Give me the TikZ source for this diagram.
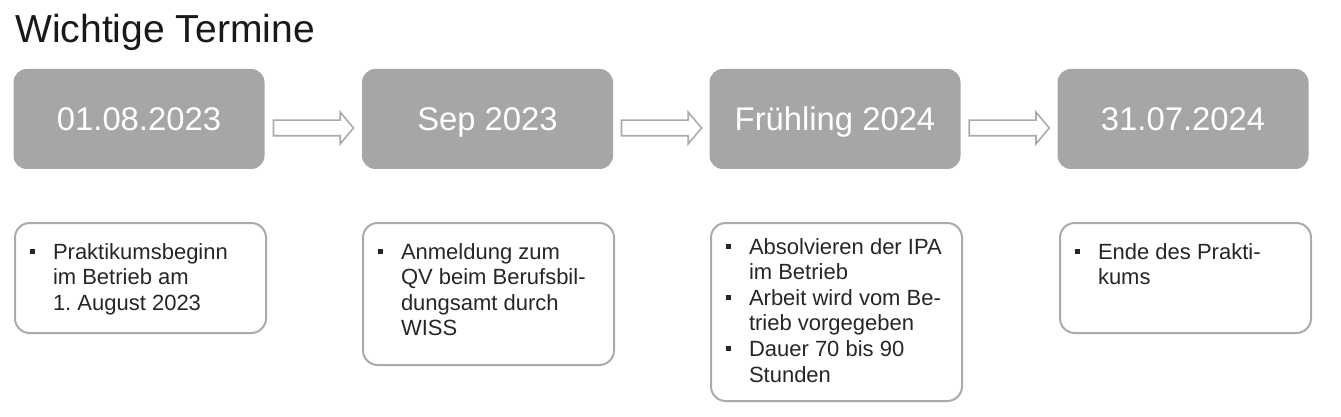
\documentclass[tikz,border=0pt]{standalone}
\usepackage{fontspec}
\setmainfont{Liberation Sans}
\usetikzlibrary{positioning}
\usetikzlibrary{calc}
\usetikzlibrary{shapes.arrows}

\definecolor{boxgrey}{HTML}{A6A6A6}
\definecolor{framegrey}{HTML}{ABABAB}
\definecolor{textgrey}{HTML}{262626}
\newcommand{\bul}{\leavevmode\llap{\rule[4pt]{3.75pt}{3.75pt}\hspace{13.5pt}}}
\newcommand{\punkte}[1]{\hspace*{28.5pt}\parbox[t]{159.75pt}{\raggedright\frenchspacing #1}}

\begin{document}
\begin{tikzpicture}
	[x=0.75pt,y=-0.75pt,
	datebox/.style={rectangle,rounded corners=10pt,fill=boxgrey,minimum width=188.25pt,minimum height=75pt,inner sep=0pt,text height=17.7pt,text depth=0pt,text=white,font=\fontsize{24.6}{29}\selectfont},
	infobox/.style={rectangle,rounded corners=11pt,draw=framegrey,line width=1.5pt,anchor=north west,inner sep=0pt,minimum width=188.25pt,text height=27pt,text=textgrey,font=\fontsize{16.5}{19.2}\selectfont},
	steparrow/.style={single arrow,draw=framegrey,line width=1.2pt,minimum height=60pt,inner xsep=0pt,inner ysep=5.25pt,single arrow head extend=6pt,single arrow tip angle=100}]
	\useasboundingbox (0,0) rectangle (1341,417);
	\node[anchor=base west,inner sep=0pt,text=black!90,font=\fontsize{29.3}{35}\selectfont] (titel) at (15,43) {Wichtige Termine};
	
	\node[datebox] (d1) at (139,119) {01.08.2023};
	\node[datebox] (d2) at (487.5,119) {Sep 2023};
	\node[datebox] (d3) at (835,119) {Frühling 2024};
	\node[datebox] (d4) at (1183,119) {31.07.2024};
	
	\node[infobox,text depth=55.5pt] (i1) at (14,222) {\punkte{\bul Praktikumsbeginn\\im Betrieb am\\1. August 2023}};
	\node[infobox,text depth=79.5pt] (i2) at (362,222) {\punkte{\bul Anmeldung zum\\QV beim Berufsbil-\\dungsamt durch\\WISS}};
	\node[infobox,text height=23.25pt,text depth=110.25pt] (i3) at (710,222) {\punkte{\bul Absolvieren der IPA\\im Betrieb\\\bul Arbeit wird vom Be-\\trieb vorgegeben\\\bul Dauer 70 bis 90\\Stunden}};
	\node[infobox,text depth=55.5pt] (i4) at (1059,222) {\punkte{\bul Ende des Prakti-\\kums}};
	
	\foreach \from/\to in {d1/d2, d2/d3, d3/d4}
	\node[steparrow] (pfeil-\from) at ($(\from.east)!0.5!(\to.west)+(-3,9)$) {};
\end{tikzpicture}
\end{document}
